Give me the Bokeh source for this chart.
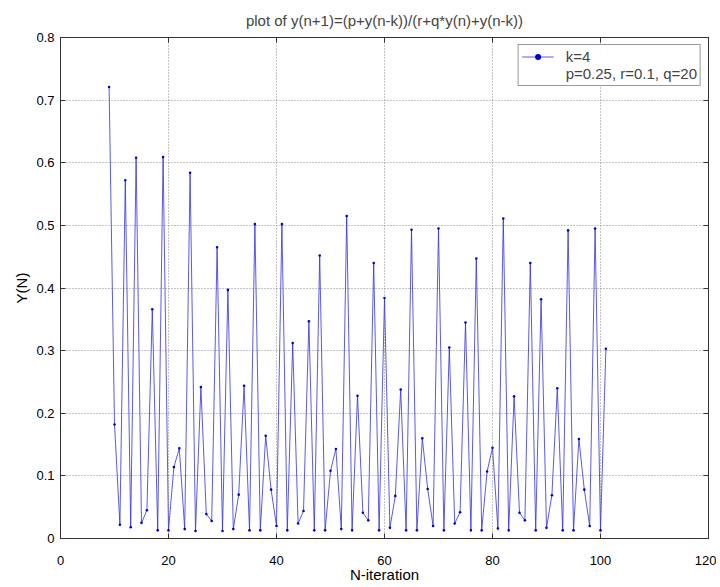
from bokeh.plotting import figure
from bokeh.models import (LinearAxis, Legend, LegendItem, FixedTicker, Range1d,
                          ColumnDataSource)
from bokeh.embed import file_html
from bokeh.resources import INLINE

# ---- data -------------------------------------------------------------
n_iter = list(range(9, 102))
y_vals = [0.721, 0.182, 0.022, 0.572, 0.018, 0.608, 0.025, 0.045, 0.366, 0.013,
          0.609, 0.013, 0.114, 0.144, 0.015, 0.584, 0.012, 0.242, 0.039, 0.028,
          0.465, 0.012, 0.397, 0.015, 0.070, 0.244, 0.013, 0.502, 0.013, 0.164,
          0.078, 0.020, 0.502, 0.013, 0.312, 0.024, 0.044, 0.347, 0.013, 0.452,
          0.013, 0.108, 0.143, 0.015, 0.515, 0.013, 0.228, 0.041, 0.029, 0.440,
          0.013, 0.384, 0.017, 0.068, 0.238, 0.013, 0.493, 0.013, 0.160, 0.079,
          0.020, 0.495, 0.013, 0.305, 0.024, 0.042, 0.345, 0.013, 0.447, 0.013,
          0.107, 0.145, 0.016, 0.511, 0.013, 0.227, 0.041, 0.029, 0.440, 0.013,
          0.382, 0.017, 0.069, 0.240, 0.013, 0.492, 0.013, 0.159, 0.078, 0.020,
          0.495, 0.013, 0.303]
x_ticks = [0, 20, 40, 60, 80, 100, 120]
y_ticks = [0, 0.1, 0.2, 0.3, 0.4, 0.5, 0.6, 0.7, 0.8]
title_text = "plot of y(n+1)=(p+y(n-k))/(r+q*y(n)+y(n-k))"
legend_labels = ["k=4", "p=0.25, r=0.1, q=20"]

FONT = "Liberation Sans"

p = figure(width=716, height=586, output_backend="svg", toolbar_location=None,
           x_range=Range1d(0, 120), y_range=Range1d(0, 0.8),
           x_axis_label="N-iteration", y_axis_label="Y(N)",
           min_border_left=60, min_border_right=8, min_border_top=37,
           min_border_bottom=48)
p.title.text = title_text
p.title.align = "center"
p.title.vertical_align = "top"
p.title.text_font = FONT
p.title.text_font_size = "15px"
p.title.text_font_style = "normal"
p.title.standoff = 13

p.background_fill_color = "white"
p.border_fill_color = "white"
p.outline_line_color = "#333333"
p.outline_line_width = 1

for ax in (p.xaxis[0], p.yaxis[0]):
    ax.major_tick_in = 5
    ax.major_tick_out = 0
    ax.minor_tick_line_color = None
    ax.axis_line_color = "#333333"
    ax.major_tick_line_color = "#333333"
    ax.major_label_text_font = FONT
    ax.major_label_text_font_size = "13px"
    ax.major_label_text_color = "black"
    ax.axis_label_text_font = FONT
    ax.axis_label_text_font_size = "15px"
    ax.axis_label_text_font_style = "normal"
    ax.axis_label_text_color = "black"
    ax.axis_label_standoff = 3

p.xaxis[0].major_label_standoff = 17
p.xaxis[0].axis_label_standoff = -2
p.yaxis[0].major_label_standoff = 6
p.xaxis[0].ticker = FixedTicker(ticks=x_ticks)
p.yaxis[0].ticker = FixedTicker(ticks=y_ticks)
p.yaxis[0].major_label_overrides = {0: "0"}

# mirror ticks on top and right (MATLAB box); their labels are not drawn
for loc, tk in (("above", x_ticks), ("right", y_ticks)):
    ax = LinearAxis(ticker=FixedTicker(ticks=tk))
    ax.major_tick_in = 5
    ax.major_tick_out = 0
    ax.minor_tick_line_color = None
    ax.axis_line_color = "#333333"
    ax.major_tick_line_color = "#333333"
    ax.major_label_text_font_size = "1px"
    ax.major_label_text_color = None
    ax.major_label_standoff = 0
    p.add_layout(ax, loc)

p.xgrid.ticker = FixedTicker(ticks=x_ticks)
p.ygrid.ticker = FixedTicker(ticks=y_ticks)
for g in (p.xgrid[0], p.ygrid[0]):
    g.grid_line_color = "#888888"
    g.grid_line_dash = "1 2"
    g.grid_line_width = 1

src = ColumnDataSource(dict(x=n_iter, y=y_vals))
ln = p.line("x", "y", source=src, line_color="#3030e0", line_width=0.8)
pts = p.scatter("x", "y", source=src, marker="circle", size=2.6,
                fill_color="#0000cc", line_color=None)

# invisible renderer for the second legend line
ghost = p.line(x=[], y=[], line_alpha=0)

legend = Legend(items=[LegendItem(label=legend_labels[0], renderers=[ln, pts]),
                       LegendItem(label=legend_labels[1], renderers=[ghost])],
                location="top_right")
legend.label_text_font = FONT
legend.label_text_font_size = "15px"
legend.label_height = 15
legend.glyph_height = 15
legend.glyph_width = 32
legend.spacing = 0
legend.padding = 3
legend.margin = 7
legend.label_standoff = 12
legend.border_line_color = "#333333"
legend.border_line_width = 1
p.add_layout(legend, "center")

open("out.html", "w").write(file_html(p, INLINE))
